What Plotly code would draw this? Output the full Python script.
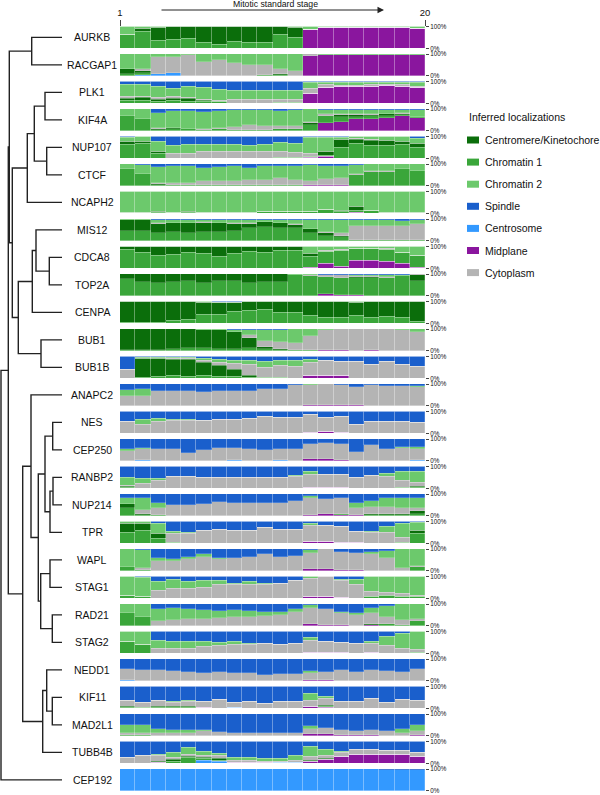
import plotly.graph_objects as go

# ---------------- data ----------------
GENES = ["AURKB", "RACGAP1", "PLK1", "KIF4A", "NUP107", "CTCF", "NCAPH2", "MIS12",
         "CDCA8", "TOP2A", "CENPA", "BUB1", "BUB1B", "ANAPC2", "NES", "CEP250",
         "RANBP2", "NUP214", "TPR", "WAPL", "STAG1", "RAD21", "STAG2", "NEDD1",
         "KIF11", "MAD2L1", "TUBB4B", "CEP192"]
STAGES = list(range(1, 21))
STAGE_TICK_LABELS = ["1", "20"]
AXIS_TITLE = "Mitotic standard stage"
LEGEND_TITLE = "Inferred localizations"

# legend order
CATEGORIES = ["Centromere/Kinetochore", "Chromatin 1", "Chromatin 2", "Spindle",
              "Centrosome", "Midplane", "Cytoplasm"]
CAT_KEYS = ["cen", "chr1", "chr2", "spi", "cso", "mid", "cyt"]
COLORS = ["#0b6e0b", "#3aa63a", "#6cc96c", "#1a5fcc", "#3399ff", "#8a169e", "#b4b4b4"]
# bottom -> top stacking order
STACK_ORDER = ["mid", "cso", "chr1", "cen", "cyt", "chr2", "spi"]

AURKB = dict(
    cen=[3, 15, 62, 58, 55, 72, 80, 65, 72, 70, 35, 45, 0, 0, 0, 0, 0, 0, 0, 0],
    chr1=[62, 77, 35, 40, 43, 26, 18, 33, 26, 28, 63, 50, 0, 0, 0, 0, 0, 0, 0, 0],
    chr2=[35, 8, 3, 2, 2, 2, 2, 2, 2, 2, 2, 5, 10, 3, 3, 3, 3, 3, 3, 8],
    spi=[0, 0, 0, 0, 0, 0, 0, 0, 0, 0, 0, 0, 2, 2, 2, 2, 2, 2, 2, 2],
    mid=[0, 0, 0, 0, 0, 0, 0, 0, 0, 0, 0, 0, 85, 95, 95, 95, 95, 95, 95, 90],
    cyt=[0, 0, 0, 0, 0, 0, 0, 0, 0, 0, 0, 0, 3, 0, 0, 0, 0, 0, 0, 0],
)
RACGAP1 = dict(
    cen=[25, 8, 0, 0, 0, 0, 0, 0, 0, 0, 3, 0, 0, 0, 0, 0, 0, 0, 0, 0],
    chr1=[7, 7, 0, 0, 0, 0, 0, 0, 0, 2, 5, 0, 0, 0, 0, 0, 0, 0, 0, 0],
    chr2=[68, 68, 15, 15, 5, 35, 28, 42, 50, 50, 67, 80, 0, 3, 3, 3, 3, 3, 3, 3],
    cso=[0, 5, 10, 15, 0, 0, 0, 0, 0, 0, 0, 0, 0, 0, 0, 0, 0, 0, 0, 0],
    mid=[0, 0, 0, 0, 0, 0, 0, 0, 0, 0, 0, 0, 92, 97, 97, 97, 97, 97, 97, 97],
    cyt=[0, 12, 75, 70, 95, 65, 72, 58, 50, 48, 25, 20, 8, 0, 0, 0, 0, 0, 0, 0],
)
PLK1 = dict(
    cen=[10, 10, 10, 12, 13, 7, 0, 0, 0, 0, 0, 0, 0, 0, 0, 0, 0, 0, 0, 0],
    chr1=[12, 15, 8, 12, 10, 6, 7, 0, 0, 0, 2, 2, 0, 0, 0, 0, 0, 0, 0, 0],
    chr2=[55, 57, 50, 38, 50, 54, 50, 42, 42, 44, 44, 42, 30, 10, 14, 14, 12, 10, 12, 20],
    spi=[15, 13, 25, 33, 22, 28, 38, 42, 42, 40, 40, 40, 3, 3, 3, 3, 3, 3, 3, 3],
    mid=[0, 0, 0, 0, 0, 0, 0, 0, 0, 0, 0, 0, 45, 72, 77, 77, 79, 83, 79, 74],
    cyt=[8, 5, 7, 5, 5, 5, 5, 16, 16, 16, 14, 16, 22, 15, 6, 6, 6, 4, 6, 3],
)
KIF4A = dict(
    cen=[0, 0, 5, 5, 0, 0, 0, 0, 0, 0, 0, 0, 10, 0, 8, 8, 8, 10, 5, 0],
    chr1=[67, 53, 5, 6, 7, 5, 7, 5, 5, 5, 7, 10, 27, 30, 22, 12, 10, 7, 5, 5],
    chr2=[33, 47, 70, 80, 80, 75, 75, 78, 70, 72, 70, 75, 60, 22, 20, 22, 20, 18, 15, 32],
    spi=[0, 0, 18, 7, 10, 15, 10, 5, 5, 5, 8, 5, 0, 3, 3, 3, 3, 3, 3, 3],
    mid=[0, 0, 0, 0, 0, 0, 0, 0, 0, 0, 0, 0, 0, 37, 42, 52, 56, 59, 69, 57],
    cyt=[0, 0, 2, 2, 3, 5, 8, 12, 20, 18, 15, 10, 3, 8, 5, 3, 3, 3, 3, 3],
)
NUP107 = dict(
    cen=[15, 8, 10, 0, 0, 0, 0, 0, 0, 0, 0, 0, 0, 20, 35, 17, 25, 20, 10, 20],
    chr1=[62, 68, 20, 0, 0, 0, 0, 0, 0, 0, 2, 5, 5, 5, 49, 70, 58, 60, 65, 48],
    chr2=[20, 22, 45, 35, 38, 30, 30, 30, 28, 32, 40, 45, 72, 65, 10, 8, 12, 15, 20, 20],
    spi=[3, 2, 22, 43, 38, 38, 38, 38, 42, 35, 28, 30, 5, 3, 3, 2, 2, 2, 2, 10],
    mid=[0, 0, 0, 0, 0, 0, 0, 0, 0, 0, 0, 0, 5, 7, 0, 0, 0, 0, 0, 0],
    cyt=[0, 0, 3, 22, 24, 32, 32, 32, 30, 33, 30, 20, 13, 0, 3, 3, 3, 3, 3, 2],
)
CTCF = dict(
    cen=[0, 0, 2, 0, 0, 0, 0, 0, 0, 0, 0, 0, 0, 0, 0, 0, 0, 0, 0, 0],
    chr1=[76, 52, 5, 3, 3, 3, 3, 2, 2, 2, 2, 2, 0, 0, 0, 50, 63, 65, 75, 67],
    chr2=[22, 45, 70, 75, 75, 62, 68, 68, 57, 62, 56, 65, 75, 60, 55, 42, 32, 30, 23, 31],
    spi=[2, 3, 15, 10, 10, 18, 12, 10, 18, 10, 10, 10, 5, 7, 10, 3, 2, 2, 2, 2],
    mid=[0, 0, 0, 0, 0, 0, 0, 0, 0, 0, 0, 0, 5, 5, 5, 0, 0, 0, 0, 0],
    cyt=[0, 0, 8, 12, 12, 17, 17, 20, 23, 26, 32, 23, 15, 28, 30, 5, 3, 3, 0, 0],
)
NCAPH2 = dict(
    cen=[0, 0, 3, 0, 5, 0, 0, 0, 0, 0, 0, 0, 0, 0, 2, 15, 0, 0, 0, 0],
    chr1=[3, 4, 4, 4, 3, 4, 4, 4, 4, 6, 6, 7, 7, 18, 10, 10, 15, 5, 2, 2],
    chr2=[97, 95, 93, 96, 92, 96, 94, 94, 94, 94, 94, 93, 93, 82, 88, 70, 85, 95, 98, 98],
    spi=[0, 1, 0, 0, 0, 0, 2, 2, 2, 0, 0, 0, 0, 0, 0, 0, 0, 0, 0, 0],
    mid=[0, 0, 0, 0, 0, 0, 0, 0, 0, 0, 0, 0, 0, 0, 0, 5, 0, 0, 0, 0],
)
MIS12 = dict(
    cen=[50, 50, 40, 40, 42, 40, 40, 30, 20, 23, 20, 15, 15, 15, 5, 0, 0, 0, 0, 0],
    chr1=[45, 45, 37, 40, 38, 42, 40, 47, 59, 62, 61, 57, 37, 22, 17, 5, 5, 5, 5, 5],
    chr2=[3, 3, 15, 12, 12, 10, 12, 15, 13, 8, 12, 20, 45, 55, 60, 30, 30, 25, 20, 20],
    spi=[2, 2, 5, 5, 5, 5, 5, 5, 5, 5, 5, 5, 3, 3, 3, 3, 3, 5, 10, 5],
    cyt=[0, 0, 3, 3, 3, 3, 3, 3, 3, 2, 2, 3, 0, 5, 15, 62, 62, 65, 65, 70],
)
CDCA8 = dict(
    cen=[12, 25, 38, 35, 25, 30, 45, 30, 22, 25, 15, 15, 15, 0, 0, 0, 0, 0, 0, 0],
    chr1=[86, 73, 60, 63, 73, 68, 53, 68, 76, 73, 83, 83, 52, 58, 73, 55, 52, 57, 53, 53],
    chr2=[0, 0, 0, 0, 0, 0, 0, 0, 0, 0, 0, 0, 28, 15, 10, 5, 5, 8, 25, 40],
    spi=[2, 2, 2, 2, 2, 2, 2, 2, 2, 2, 2, 2, 2, 2, 2, 2, 2, 2, 2, 2],
    mid=[0, 0, 0, 0, 0, 0, 0, 0, 0, 0, 0, 0, 3, 20, 10, 35, 38, 30, 20, 5],
    cyt=[0, 0, 0, 0, 0, 0, 0, 0, 0, 0, 0, 0, 0, 5, 5, 3, 3, 3, 0, 0],
)
TOP2A = dict(
    cen=[22, 38, 42, 38, 32, 42, 28, 32, 38, 35, 35, 0, 0, 0, 0, 5, 5, 0, 0, 25],
    chr1=[78, 62, 58, 62, 68, 58, 70, 68, 60, 65, 65, 95, 93, 80, 78, 75, 82, 82, 89, 70],
    chr2=[0, 0, 0, 0, 0, 0, 0, 0, 0, 0, 0, 3, 5, 0, 0, 2, 5, 10, 5, 0],
    spi=[0, 0, 0, 0, 0, 0, 2, 0, 0, 0, 0, 0, 0, 3, 5, 5, 3, 5, 3, 0],
    mid=[0, 0, 0, 0, 0, 0, 0, 0, 0, 0, 0, 0, 0, 7, 5, 5, 0, 0, 0, 0],
    cyt=[0, 0, 0, 0, 0, 0, 0, 0, 2, 0, 0, 2, 2, 10, 12, 8, 5, 3, 3, 5],
)
CENPA = dict(
    cen=[97, 97, 97, 85, 82, 55, 55, 40, 40, 35, 50, 50, 65, 75, 75, 60, 75, 70, 72, 90],
    chr1=[3, 3, 3, 15, 18, 41, 39, 54, 58, 65, 50, 50, 35, 25, 25, 35, 25, 30, 28, 10],
    chr2=[0, 0, 0, 0, 0, 2, 3, 3, 0, 0, 0, 0, 0, 0, 0, 5, 0, 0, 0, 0],
    spi=[0, 0, 0, 0, 0, 2, 3, 3, 2, 0, 0, 0, 0, 0, 0, 0, 0, 0, 0, 0],
)
BUB1 = dict(
    cen=[97, 97, 97, 92, 88, 85, 85, 80, 45, 12, 7, 2, 0, 0, 0, 0, 0, 0, 0, 0],
    chr1=[3, 3, 3, 8, 12, 12, 10, 7, 15, 7, 3, 3, 2, 0, 0, 0, 0, 0, 0, 0],
    chr2=[0, 0, 0, 0, 0, 3, 3, 10, 25, 50, 57, 65, 30, 5, 0, 0, 0, 0, 5, 15],
    spi=[0, 0, 0, 0, 0, 0, 2, 3, 3, 3, 3, 0, 0, 0, 0, 0, 0, 0, 0, 0],
    mid=[0, 0, 0, 0, 0, 0, 0, 0, 0, 0, 0, 0, 0, 5, 3, 0, 3, 0, 0, 0],
    cyt=[0, 0, 0, 0, 0, 0, 0, 0, 12, 28, 30, 30, 68, 90, 97, 100, 97, 100, 95, 85],
)
BUB1B = dict(
    cen=[0, 85, 82, 75, 75, 60, 50, 30, 10, 0, 0, 0, 0, 0, 0, 0, 0, 0, 0, 0],
    chr1=[0, 5, 8, 12, 10, 14, 10, 10, 5, 5, 2, 0, 0, 0, 0, 0, 0, 0, 0, 0],
    chr2=[0, 5, 3, 5, 5, 10, 12, 10, 15, 25, 20, 25, 15, 0, 0, 0, 0, 0, 0, 0],
    spi=[58, 5, 5, 5, 5, 8, 15, 20, 20, 25, 20, 20, 12, 20, 25, 25, 35, 25, 35, 45],
    mid=[0, 0, 0, 0, 0, 0, 0, 0, 0, 0, 0, 0, 13, 13, 13, 0, 0, 0, 0, 0],
    cyt=[42, 0, 2, 3, 5, 8, 13, 30, 50, 45, 58, 55, 60, 67, 62, 75, 65, 75, 65, 55],
)
ANAPC2 = dict(
    chr2=[25, 30, 0, 0, 0, 0, 0, 0, 0, 0, 0, 0, 5, 0, 0, 0, 0, 0, 0, 8],
    spi=[28, 25, 30, 32, 33, 35, 32, 30, 33, 22, 25, 5, 0, 0, 5, 15, 5, 10, 10, 8],
    mid=[0, 0, 0, 0, 0, 0, 0, 0, 0, 0, 0, 0, 3, 5, 3, 3, 0, 0, 0, 0],
    cyt=[47, 45, 70, 68, 67, 65, 68, 70, 67, 78, 75, 95, 92, 95, 92, 82, 95, 90, 90, 84],
)
NES = dict(
    chr2=[0, 22, 15, 3, 3, 0, 0, 0, 0, 0, 0, 0, 3, 0, 0, 0, 0, 0, 0, 0],
    spi=[45, 38, 30, 38, 38, 42, 35, 35, 30, 25, 28, 28, 12, 28, 22, 60, 45, 45, 48, 50],
    mid=[0, 0, 0, 0, 0, 0, 0, 0, 0, 0, 0, 0, 5, 7, 5, 0, 0, 0, 0, 0],
    cyt=[55, 40, 55, 59, 59, 58, 65, 65, 70, 75, 72, 72, 80, 65, 73, 40, 55, 55, 52, 50],
)
CEP250 = dict(
    chr2=[8, 5, 0, 0, 0, 0, 0, 0, 0, 0, 0, 0, 0, 0, 0, 0, 0, 0, 2, 7],
    spi=[45, 40, 48, 48, 62, 52, 42, 42, 45, 52, 45, 48, 25, 20, 22, 60, 28, 45, 38, 38],
    cso=[0, 3, 0, 0, 0, 0, 0, 3, 0, 0, 5, 0, 0, 0, 0, 0, 0, 0, 0, 3],
    mid=[0, 0, 0, 0, 0, 0, 0, 0, 0, 0, 0, 0, 8, 8, 5, 0, 0, 0, 0, 0],
    cyt=[47, 52, 52, 52, 38, 48, 58, 55, 55, 48, 50, 52, 67, 72, 73, 40, 72, 55, 60, 52],
)
RANBP2 = dict(
    cen=[5, 0, 0, 0, 0, 0, 0, 0, 0, 0, 0, 0, 0, 0, 0, 0, 0, 0, 0, 5],
    chr1=[2, 0, 0, 0, 0, 0, 0, 0, 0, 0, 0, 0, 0, 0, 0, 0, 0, 0, 5, 2],
    chr2=[38, 25, 8, 0, 0, 0, 0, 0, 0, 0, 0, 3, 10, 0, 0, 0, 3, 15, 40, 50],
    spi=[50, 55, 55, 48, 48, 50, 50, 50, 52, 50, 52, 42, 25, 35, 35, 52, 40, 30, 25, 25],
    mid=[0, 0, 0, 0, 0, 0, 0, 0, 0, 0, 0, 0, 5, 5, 5, 0, 0, 0, 0, 0],
    cyt=[5, 20, 37, 52, 52, 50, 50, 50, 48, 50, 48, 55, 60, 60, 60, 48, 57, 55, 30, 18],
)
NUP214 = dict(
    cen=[17, 8, 0, 0, 0, 0, 0, 0, 0, 0, 0, 0, 0, 0, 0, 0, 5, 5, 8, 12],
    chr1=[35, 2, 3, 0, 0, 0, 0, 0, 0, 0, 0, 0, 0, 0, 3, 0, 5, 5, 2, 8],
    chr2=[30, 55, 25, 0, 0, 0, 0, 0, 0, 0, 0, 0, 10, 0, 0, 20, 30, 40, 45, 45],
    spi=[18, 20, 40, 52, 50, 48, 35, 40, 42, 42, 40, 30, 8, 25, 20, 42, 30, 20, 20, 20],
    mid=[0, 0, 0, 0, 0, 0, 0, 0, 0, 0, 0, 0, 5, 8, 5, 5, 0, 0, 0, 0],
    cyt=[0, 15, 32, 48, 50, 52, 65, 60, 58, 58, 60, 70, 77, 67, 72, 33, 30, 30, 25, 15],
)
TPR = dict(
    cen=[43, 35, 25, 0, 0, 0, 0, 0, 0, 0, 0, 0, 0, 0, 0, 0, 0, 0, 0, 15],
    chr1=[50, 58, 20, 5, 0, 0, 0, 0, 0, 0, 0, 0, 0, 0, 0, 0, 0, 0, 5, 45],
    chr2=[5, 5, 45, 8, 5, 0, 0, 0, 0, 0, 0, 0, 10, 0, 0, 0, 5, 25, 65, 35],
    spi=[2, 2, 10, 48, 50, 40, 38, 40, 40, 28, 35, 35, 10, 20, 25, 45, 45, 25, 10, 5],
    mid=[0, 0, 0, 0, 0, 0, 0, 0, 0, 0, 0, 0, 8, 8, 5, 3, 0, 0, 0, 0],
    cyt=[0, 0, 0, 39, 45, 60, 62, 60, 60, 72, 65, 65, 72, 72, 70, 52, 50, 50, 20, 0],
)
WAPL = dict(
    chr1=[18, 5, 0, 0, 0, 0, 0, 0, 0, 0, 0, 0, 0, 0, 0, 0, 0, 0, 0, 17],
    chr2=[82, 85, 15, 8, 10, 10, 5, 3, 0, 0, 0, 0, 15, 0, 0, 0, 10, 30, 85, 78],
    spi=[0, 3, 40, 45, 35, 25, 40, 40, 35, 25, 35, 30, 5, 0, 15, 20, 15, 10, 0, 0],
    mid=[0, 0, 0, 0, 0, 0, 0, 0, 0, 0, 0, 0, 8, 8, 5, 3, 0, 0, 0, 0],
    cyt=[0, 7, 45, 47, 55, 65, 55, 57, 65, 75, 65, 70, 72, 92, 80, 77, 75, 60, 15, 5],
)
STAG1 = dict(
    chr1=[12, 7, 0, 0, 0, 0, 0, 0, 0, 0, 0, 0, 0, 0, 0, 0, 10, 15, 10, 10],
    chr2=[88, 90, 40, 40, 35, 30, 15, 5, 10, 5, 0, 0, 10, 0, 5, 20, 70, 75, 80, 85],
    spi=[0, 3, 22, 15, 22, 20, 20, 30, 25, 30, 30, 20, 0, 0, 15, 15, 0, 0, 0, 0],
    mid=[0, 0, 0, 0, 0, 0, 0, 0, 0, 0, 0, 0, 8, 8, 5, 0, 0, 0, 0, 0],
    cyt=[0, 0, 38, 45, 43, 50, 65, 65, 65, 65, 70, 80, 82, 92, 75, 65, 20, 10, 10, 5],
)
RAD21 = dict(
    cen=[0, 0, 0, 0, 0, 0, 0, 0, 0, 0, 0, 0, 0, 0, 0, 0, 5, 0, 0, 0],
    chr1=[60, 40, 0, 0, 0, 0, 0, 0, 0, 0, 0, 0, 0, 0, 0, 0, 0, 10, 5, 20],
    chr2=[40, 60, 55, 55, 45, 40, 35, 32, 28, 20, 15, 12, 15, 0, 5, 10, 20, 50, 75, 70],
    spi=[0, 0, 25, 20, 25, 28, 30, 28, 30, 35, 35, 25, 5, 25, 35, 40, 20, 10, 0, 0],
    mid=[0, 0, 0, 0, 0, 0, 0, 0, 0, 0, 0, 0, 8, 5, 5, 0, 3, 0, 0, 0],
    cyt=[0, 0, 20, 25, 30, 32, 35, 40, 42, 45, 50, 63, 72, 70, 55, 50, 52, 30, 20, 10],
)
STAG2 = dict(
    chr1=[55, 40, 0, 0, 0, 0, 0, 0, 0, 0, 0, 0, 0, 0, 0, 0, 0, 0, 0, 3],
    chr2=[45, 60, 38, 30, 28, 25, 15, 12, 5, 0, 0, 0, 15, 0, 0, 0, 10, 40, 70, 82],
    spi=[0, 0, 40, 48, 48, 45, 50, 48, 55, 55, 58, 55, 28, 45, 50, 55, 45, 25, 10, 0],
    mid=[0, 0, 0, 0, 0, 0, 0, 0, 0, 0, 0, 0, 5, 5, 5, 0, 5, 0, 0, 0],
    cyt=[0, 0, 22, 22, 24, 30, 35, 40, 40, 45, 42, 45, 52, 50, 45, 45, 40, 35, 20, 15],
)
NEDD1 = dict(
    chr2=[0, 0, 0, 0, 0, 0, 0, 0, 0, 0, 0, 0, 8, 0, 0, 0, 0, 0, 0, 0],
    spi=[45, 50, 50, 55, 58, 65, 60, 62, 65, 75, 70, 70, 55, 60, 50, 58, 50, 55, 60, 48],
    cso=[3, 0, 0, 0, 0, 0, 0, 0, 0, 0, 0, 0, 0, 0, 0, 0, 0, 0, 0, 0],
    mid=[0, 0, 0, 0, 0, 0, 0, 0, 0, 0, 0, 0, 5, 5, 0, 0, 0, 0, 0, 0],
    cyt=[52, 50, 50, 45, 42, 35, 40, 38, 35, 25, 30, 30, 32, 35, 50, 42, 50, 45, 40, 52],
)
KIF11 = dict(
    cen=[5, 0, 5, 5, 5, 0, 0, 0, 0, 0, 0, 0, 3, 8, 0, 0, 0, 0, 0, 0],
    chr1=[5, 5, 5, 5, 5, 0, 0, 0, 0, 0, 0, 0, 0, 2, 0, 0, 0, 0, 0, 0],
    chr2=[0, 0, 0, 5, 5, 0, 0, 0, 0, 0, 0, 0, 35, 10, 0, 0, 0, 0, 0, 0],
    spi=[62, 75, 65, 68, 65, 68, 58, 75, 68, 78, 68, 70, 30, 45, 68, 68, 55, 72, 58, 65],
    cso=[0, 0, 0, 0, 0, 0, 0, 5, 0, 0, 0, 0, 0, 0, 0, 0, 0, 0, 0, 0],
    mid=[0, 0, 0, 0, 0, 5, 0, 0, 0, 0, 0, 0, 7, 5, 0, 0, 0, 0, 0, 0],
    cyt=[28, 20, 25, 17, 20, 27, 42, 20, 32, 22, 32, 30, 25, 30, 32, 32, 45, 28, 42, 35],
)
MAD2L1 = dict(
    chr1=[5, 5, 0, 0, 0, 0, 0, 0, 0, 0, 0, 0, 0, 0, 0, 0, 0, 0, 0, 0],
    chr2=[35, 35, 15, 10, 10, 5, 0, 0, 0, 0, 0, 0, 15, 0, 0, 0, 0, 0, 15, 30],
    spi=[50, 50, 70, 75, 75, 75, 82, 85, 85, 85, 85, 85, 55, 65, 75, 80, 75, 80, 70, 50],
    mid=[0, 0, 0, 0, 0, 0, 0, 0, 0, 0, 0, 0, 10, 10, 5, 5, 3, 0, 0, 5],
    cyt=[10, 10, 15, 15, 15, 20, 18, 15, 15, 15, 15, 15, 20, 25, 20, 15, 22, 20, 15, 15],
)
TUBB4B = dict(
    cen=[0, 0, 5, 8, 5, 5, 5, 0, 0, 0, 0, 0, 5, 5, 0, 0, 0, 0, 0, 0],
    chr1=[0, 0, 0, 8, 25, 5, 5, 0, 0, 0, 0, 0, 0, 0, 0, 0, 0, 0, 0, 0],
    chr2=[0, 0, 5, 22, 30, 15, 10, 10, 15, 10, 15, 25, 45, 30, 5, 0, 0, 0, 0, 0],
    spi=[75, 65, 60, 50, 28, 48, 55, 75, 72, 80, 78, 62, 25, 35, 45, 38, 35, 40, 40, 50],
    cso=[0, 0, 0, 0, 0, 15, 10, 0, 0, 0, 2, 5, 0, 0, 0, 0, 0, 0, 0, 0],
    mid=[0, 0, 5, 0, 0, 0, 0, 5, 5, 5, 0, 0, 10, 18, 30, 42, 40, 40, 40, 30],
    cyt=[25, 35, 25, 12, 12, 12, 15, 10, 8, 5, 5, 8, 15, 12, 20, 20, 25, 20, 20, 20],
)
CEP192 = dict(
    spi=[0, 0, 0, 0, 0, 0, 0, 0, 0, 0, 0, 0, 0, 0, 0, 0, 2, 3, 3, 3],
    cso=[100, 100, 100, 100, 100, 100, 100, 100, 100, 100, 100, 100, 100, 100, 100, 100, 98, 97, 97, 97],
)

GENE_DATA = [AURKB, RACGAP1, PLK1, KIF4A, NUP107, CTCF, NCAPH2, MIS12, CDCA8, TOP2A,
             CENPA, BUB1, BUB1B, ANAPC2, NES, CEP250, RANBP2, NUP214, TPR, WAPL,
             STAG1, RAD21, STAG2, NEDD1, KIF11, MAD2L1, TUBB4B, CEP192]

# dendrogram: merges (left child, right child, height); "cN" = result of merge N
MERGE_LEFT = ["AURKB", "PLK1", "NUP107", "c1", "c3", "CDCA8", "MIS12", "c6", "BUB1", "c7",
              "c4", "c0", "NES", "RANBP2", "c13", "c12", "WAPL", "RAD21", "c16", "c15",
              "ANAPC2", "KIF11", "NEDD1", "c22", "c20", "c11", "c25"]
MERGE_RIGHT = ["RACGAP1", "KIF4A", "CTCF", "c2", "NCAPH2", "TOP2A", "c5", "CENPA", "BUB1B", "c8",
               "c9", "c10", "CEP250", "NUP214", "TPR", "c14", "STAG1", "STAG2", "c17", "c18",
               "c19", "MAD2L1", "c21", "TUBB4B", "c23", "c24", "CEP192"]
MERGE_HEIGHT = [30.3, 17.0, 15.3, 27.7, 34.7, 12.7, 26.0, 29.7, 21.0, 43.7,
                49.7, 52.7, 9.3, 9.0, 12.0, 17.0, 12.0, 9.7, 21.3, 23.7,
                31.0, 9.7, 15.3, 19.3, 39.3, 53.7, 61.0]

# ---------------- layout constants (pixels) ----------------
W, H = 600, 795
BAR_X0, BAR_X1 = 120, 425
ROW_TOP0, ROW_PITCH, ROW_H = 26.5, 27.5, 21.8
DENDRO_X1 = 62
LABEL_X = 92
ARROW_X0, ARROW_X1, ARROW_Y = 160, 384, 10
TITLE_X, TITLE_Y = 275, 3.8
LEG_SW_X0, LEG_SW_W, LEG_SW_H = 467, 12, 7
LEG_TEXT_X, LEG_TITLE_Y, LEG_Y0, LEG_PITCH = 483, 117, 140, 22.1
FONT = "Liberation Sans, Arial, Helvetica, sans-serif"

fig = go.Figure()

# ---------------- stacked bars ----------------
key_to_idx = {k: i for i, k in enumerate(CAT_KEYS)}
for r, (gene, data) in enumerate(zip(GENES, GENE_DATA)):
    zeros = [0] * len(STAGES)
    totals = [sum(data.get(k, zeros)[s] for k in CAT_KEYS) for s in range(len(STAGES))]
    for k in STACK_ORDER:
        i = key_to_idx[k]
        vals = data.get(k, zeros)
        frac = [v / t if t else 0 for v, t in zip(vals, totals)]
        fig.add_trace(go.Bar(
            x=STAGES, y=frac, name=CATEGORIES[i], legendgroup=CATEGORIES[i],
            showlegend=False,
            marker=dict(color=COLORS[i], line=dict(width=0.5, color="rgba(255,255,255,0.4)")),
            xaxis="x", yaxis=f"y{r + 1}" if r else "y",
            hovertemplate=gene + " stage %{x}<br>" + CATEGORIES[i] + ": %{y:.0%}<extra></extra>",
        ))

# ---------------- dendrogram ----------------
node_pos = {g: (0.0, float(i)) for i, g in enumerate(GENES)}
dx, dy = [], []
for n, (a, b, h) in enumerate(zip(MERGE_LEFT, MERGE_RIGHT, MERGE_HEIGHT)):
    ha, ya = node_pos[a]
    hb, yb = node_pos[b]
    dx += [ha, h, h, hb, None]
    dy += [ya, ya, yb, yb, None]
    node_pos[f"c{n}"] = (h, (ya + yb) / 2)
fig.add_trace(go.Scatter(x=dx, y=dy, mode="lines", xaxis="x2", yaxis="y29",
                         line=dict(color="#222222", width=1.4), hoverinfo="skip",
                         showlegend=False))

# ---------------- axes ----------------
layout = dict(
    width=W, height=H, margin=dict(l=0, r=0, t=0, b=0, autoexpand=False),
    paper_bgcolor="white", plot_bgcolor="white",
    barmode="stack", bargap=0,
    font=dict(family=FONT, color="#111"),
    showlegend=False,
)
layout["xaxis"] = dict(
    domain=[BAR_X0 / W, BAR_X1 / W], anchor="y", range=[0.5, len(STAGES) + 0.5],
    side="top", tickmode="array", tickvals=[0.5, len(STAGES) + 0.5],
    ticktext=STAGE_TICK_LABELS, ticks="outside", ticklen=6, tickwidth=1,
    tickcolor="#444", tickfont=dict(size=9.5), showgrid=False, zeroline=False,
    showline=False, fixedrange=True, automargin=False,
)
for r in range(len(GENES)):
    top = ROW_TOP0 + r * ROW_PITCH
    bot = top + ROW_H
    name = f"yaxis{r + 1}" if r else "yaxis"
    layout[name] = dict(
        domain=[1 - bot / H, 1 - top / H], anchor="x", range=[0, 1],
        side="right", tickmode="array", tickvals=[0, 1], ticktext=["0%", "100%"],
        ticks="outside", ticklen=3, tickwidth=1, tickcolor="#444",
        tickfont=dict(size=6.3), showgrid=False, zeroline=False, showline=False,
        fixedrange=True, automargin=False,
    )
centre0 = ROW_TOP0 + ROW_H / 2
layout["xaxis2"] = dict(domain=[0, DENDRO_X1 / W], anchor="y29", range=[DENDRO_X1, 0],
                        visible=False, fixedrange=True)
layout["yaxis29"] = dict(domain=[0, 1], anchor="x2",
                         range=[(H - centre0) / ROW_PITCH, -centre0 / ROW_PITCH],
                         visible=False, fixedrange=True)

annotations, shapes = [], []
for r, gene in enumerate(GENES):
    annotations.append(dict(x=LABEL_X / W, xref="paper", y=r, yref="y29", text=gene,
                            showarrow=False, xanchor="center", yanchor="middle",
                            font=dict(size=10.5, family=FONT, color="#111")))
annotations.append(dict(x=TITLE_X / W, y=1 - TITLE_Y / H, xref="paper", yref="paper",
                        text=AXIS_TITLE, showarrow=False, xanchor="center",
                        yanchor="middle", font=dict(size=8.7, family=FONT, color="#111")))
annotations.append(dict(x=ARROW_X1 / W, y=1 - ARROW_Y / H, xref="paper", yref="paper",
                        ax=-(ARROW_X1 - ARROW_X0), ay=0, axref="pixel", ayref="pixel",
                        text="", showarrow=True, arrowhead=2, arrowsize=1.3,
                        arrowwidth=1, arrowcolor="#222"))

# legend (title + swatches + labels)
annotations.append(dict(x=LEG_SW_X0 / W, y=1 - LEG_TITLE_Y / H, xref="paper", yref="paper",
                        text=LEGEND_TITLE, showarrow=False, xanchor="left",
                        yanchor="middle", font=dict(size=10.5, family=FONT, color="#111")))
for i, (cat, col) in enumerate(zip(CATEGORIES, COLORS)):
    yc = LEG_Y0 + i * LEG_PITCH
    shapes.append(dict(type="rect", xref="paper", yref="paper",
                       x0=LEG_SW_X0 / W, x1=(LEG_SW_X0 + LEG_SW_W) / W,
                       y0=1 - (yc + LEG_SW_H / 2) / H, y1=1 - (yc - LEG_SW_H / 2) / H,
                       fillcolor=col, line=dict(width=0)))
    annotations.append(dict(x=LEG_TEXT_X / W, y=1 - yc / H, xref="paper", yref="paper",
                            text=cat, showarrow=False, xanchor="left", yanchor="middle",
                            font=dict(size=10.5, family=FONT, color="#111")))
layout["annotations"] = annotations
layout["shapes"] = shapes

fig.update_layout(**layout)
# remove the browser's default page margin so the figure sits at the window's corner
fig.write_html("out.html", config={"displayModeBar": False},
               post_script="document.body.style.margin='0px';")
